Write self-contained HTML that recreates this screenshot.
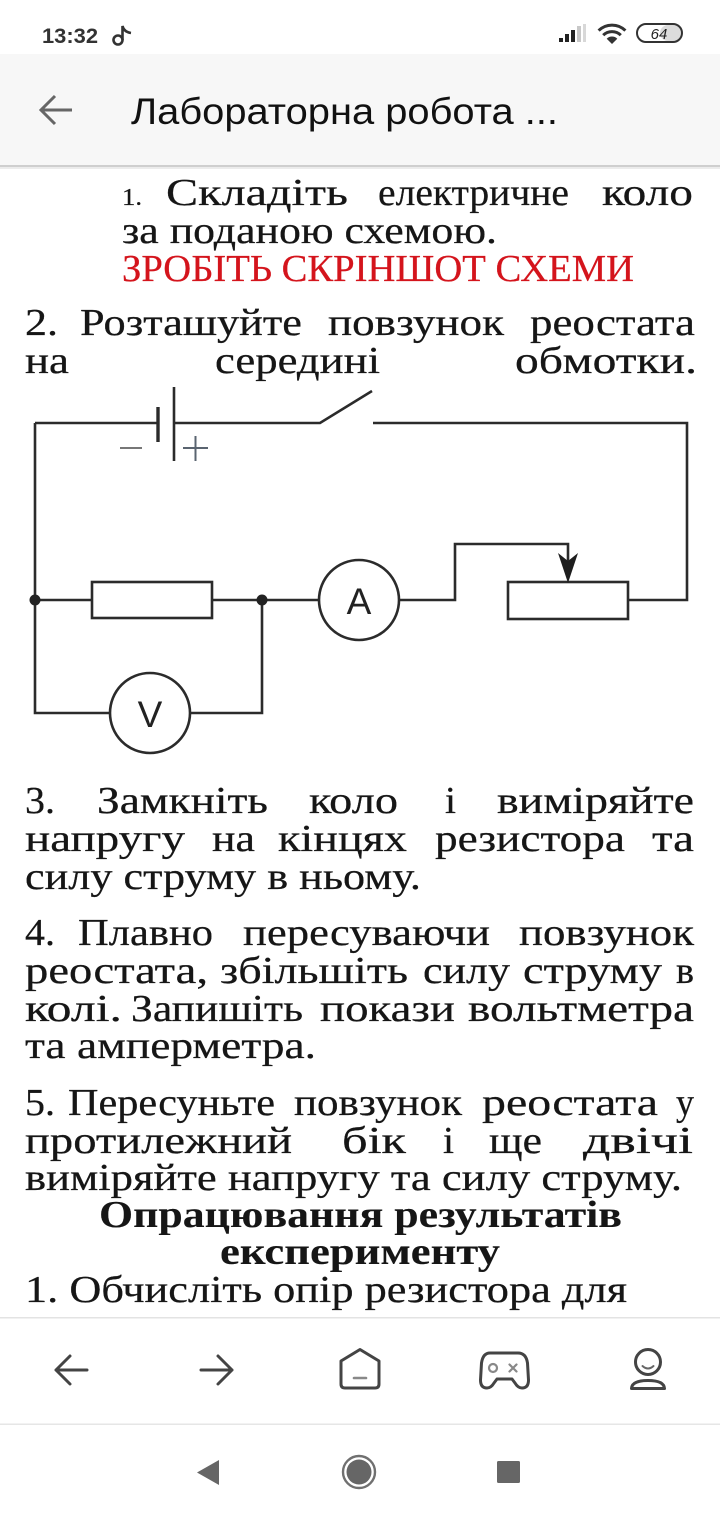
<!DOCTYPE html>
<html><head><meta charset="utf-8"><style>
html,body{margin:0;padding:0;background:#fff;}
svg{display:block;}
.t{font-family:"Liberation Serif",serif;font-size:38px;fill:#161616;stroke:#161616;stroke-width:0.25px;}
.b{font-weight:bold;stroke-width:0.1px;}
</style></head><body>
<svg width="720" height="1520" viewBox="0 0 720 1520" xmlns="http://www.w3.org/2000/svg">
<rect x="0" y="0" width="720" height="1520" fill="#fff"/>
<!-- status bar -->
<text x="42" y="43" font-family="Liberation Sans, sans-serif" font-size="21" font-weight="bold" fill="#333" textLength="56" lengthAdjust="spacingAndGlyphs">13:32</text>
<circle cx="118" cy="40" r="4.5" fill="none" stroke="#333" stroke-width="2.6"/>
<path d="M122.5,40 V26 Q124,32 131,33" fill="none" stroke="#333" stroke-width="2.6"/>
<rect x="559" y="38" width="4" height="4" fill="#222"/>
<rect x="565" y="34" width="4" height="8" fill="#222"/>
<rect x="571" y="30" width="4" height="12" fill="#222"/>
<rect x="577" y="26" width="4" height="16" fill="#c8c8c8"/>
<rect x="583" y="24" width="3" height="18" fill="#d8d8d8"/>
<path d="M598.6,30.6 A19,19 0 0 1 625.4,30.6" fill="none" stroke="#333" stroke-width="3"/>
<path d="M603.2,35.2 A12.5,12.5 0 0 1 620.8,35.2" fill="none" stroke="#333" stroke-width="3"/>
<path d="M612,44 L606.7,38.7 A7.5,7.5 0 0 1 617.3,38.7 Z" fill="#333"/>
<rect x="660" y="25" width="21" height="16" rx="8" fill="#dcdcdc"/>
<rect x="637" y="24" width="45" height="18" rx="9" fill="none" stroke="#333" stroke-width="2"/>
<text x="659" y="39" text-anchor="middle" font-family="Liberation Sans, sans-serif" font-size="15" font-style="italic" fill="#222">64</text>
<!-- app bar -->
<rect x="0" y="54" width="720" height="112" fill="#f7f7f7"/>
<rect x="0" y="165" width="720" height="2" fill="#cfcfcf"/>
<rect x="0" y="167" width="720" height="2" fill="#ececec"/>
<path d="M41,110 H72 M55,96 L41,110 L55,124" fill="none" stroke="#666" stroke-width="3"/>
<text x="131" y="124" font-family="Liberation Sans, sans-serif" font-size="37" fill="#111" textLength="427" lengthAdjust="spacingAndGlyphs">Лабораторна робота ...</text>

<!-- body text -->
<g class="t">
<text x="122" y="205" font-size="24" textLength="20" lengthAdjust="spacingAndGlyphs">1.</text>
<text x="166" y="205" textLength="182" lengthAdjust="spacingAndGlyphs">Складіть</text>
<text x="378" y="205" textLength="191" lengthAdjust="spacingAndGlyphs">електричне</text>
<text x="602" y="205" textLength="91" lengthAdjust="spacingAndGlyphs">коло</text>
<text x="122" y="243" textLength="375" lengthAdjust="spacingAndGlyphs">за поданою схемою.</text>
<text x="122" y="281" textLength="512" lengthAdjust="spacingAndGlyphs" style="fill:#d4141c;stroke:#d4141c">ЗРОБІТЬ СКРІНШОТ СХЕМИ</text>

<text x="25" y="335" textLength="33" lengthAdjust="spacingAndGlyphs">2.</text>
<text x="80" y="335" textLength="222" lengthAdjust="spacingAndGlyphs">Розташуйте</text>
<text x="328" y="335" textLength="176" lengthAdjust="spacingAndGlyphs">повзунок</text>
<text x="530" y="335" textLength="165" lengthAdjust="spacingAndGlyphs">реостата</text>
<text x="25" y="373" textLength="44" lengthAdjust="spacingAndGlyphs">на</text>
<text x="215" y="373" textLength="165" lengthAdjust="spacingAndGlyphs">середині</text>
<text x="515" y="373" textLength="182" lengthAdjust="spacingAndGlyphs">обмотки.</text>

<text x="25" y="813" textLength="30" lengthAdjust="spacingAndGlyphs">3.</text>
<text x="97" y="813" textLength="171" lengthAdjust="spacingAndGlyphs">Замкніть</text>
<text x="309" y="813" textLength="89" lengthAdjust="spacingAndGlyphs">коло</text>
<text x="445" y="813" textLength="11" lengthAdjust="spacingAndGlyphs">і</text>
<text x="497" y="813" textLength="197" lengthAdjust="spacingAndGlyphs">виміряйте</text>
<text x="25" y="851" textLength="160" lengthAdjust="spacingAndGlyphs">напругу</text>
<text x="212" y="851" textLength="43" lengthAdjust="spacingAndGlyphs">на</text>
<text x="278" y="851" textLength="129" lengthAdjust="spacingAndGlyphs">кінцях</text>
<text x="435" y="851" textLength="190" lengthAdjust="spacingAndGlyphs">резистора</text>
<text x="652" y="851" textLength="42" lengthAdjust="spacingAndGlyphs">та</text>
<text x="25" y="889" textLength="396" lengthAdjust="spacingAndGlyphs">силу струму в ньому.</text>

<text x="25" y="945" textLength="30" lengthAdjust="spacingAndGlyphs">4.</text>
<text x="78" y="945" textLength="135" lengthAdjust="spacingAndGlyphs">Плавно</text>
<text x="243" y="945" textLength="247" lengthAdjust="spacingAndGlyphs">пересуваючи</text>
<text x="519" y="945" textLength="175" lengthAdjust="spacingAndGlyphs">повзунок</text>
<text x="25" y="983" textLength="183" lengthAdjust="spacingAndGlyphs">реостата,</text>
<text x="220" y="983" textLength="188" lengthAdjust="spacingAndGlyphs">збільшіть</text>
<text x="423" y="983" textLength="87" lengthAdjust="spacingAndGlyphs">силу</text>
<text x="523" y="983" textLength="139" lengthAdjust="spacingAndGlyphs">струму</text>
<text x="676" y="983" textLength="18" lengthAdjust="spacingAndGlyphs">в</text>
<text x="25" y="1021" textLength="97" lengthAdjust="spacingAndGlyphs">колі.</text>
<text x="131" y="1021" textLength="172" lengthAdjust="spacingAndGlyphs">Запишіть</text>
<text x="320" y="1021" textLength="135" lengthAdjust="spacingAndGlyphs">покази</text>
<text x="468" y="1021" textLength="226" lengthAdjust="spacingAndGlyphs">вольтметра</text>
<text x="25" y="1058" textLength="291" lengthAdjust="spacingAndGlyphs">та амперметра.</text>

<text x="25" y="1115" textLength="30" lengthAdjust="spacingAndGlyphs">5.</text>
<text x="68" y="1115" textLength="207" lengthAdjust="spacingAndGlyphs">Пересуньте</text>
<text x="294" y="1115" textLength="168" lengthAdjust="spacingAndGlyphs">повзунок</text>
<text x="482" y="1115" textLength="176" lengthAdjust="spacingAndGlyphs">реостата</text>
<text x="676" y="1115" textLength="18" lengthAdjust="spacingAndGlyphs">у</text>
<text x="25" y="1153" textLength="267" lengthAdjust="spacingAndGlyphs">протилежний</text>
<text x="342" y="1153" textLength="64" lengthAdjust="spacingAndGlyphs">бік</text>
<text x="443" y="1153" textLength="11" lengthAdjust="spacingAndGlyphs">і</text>
<text x="489" y="1153" textLength="53" lengthAdjust="spacingAndGlyphs">ще</text>
<text x="583" y="1153" textLength="110" lengthAdjust="spacingAndGlyphs">двічі</text>
<text x="25" y="1190" textLength="657" lengthAdjust="spacingAndGlyphs">виміряйте напругу та силу струму.</text>
<text class="b" x="99" y="1227" textLength="523" lengthAdjust="spacingAndGlyphs">Опрацювання результатів</text>
<text class="b" x="220" y="1264" textLength="280" lengthAdjust="spacingAndGlyphs">експерименту</text>
<text x="25" y="1302" textLength="602" lengthAdjust="spacingAndGlyphs">1. Обчисліть опір резистора для</text>
</g>

<!-- circuit -->
<g fill="none" stroke="#2b2b2b" stroke-width="2.6" stroke-linejoin="miter">
<path d="M35,423 H158"/>
<path d="M158,407 V442" stroke-width="3.4"/>
<path d="M174,387 V461"/>
<path d="M174,423 H320 L372,391"/>
<path d="M373,423 H687 V600 H628"/>
<rect x="508" y="582" width="120" height="37"/>
<path d="M399,600 H455 V544 H568 V565"/>
<path d="M35,423 V713 H110"/>
<circle cx="150" cy="713" r="40"/>
<path d="M190,713 H262 V600"/>
<path d="M35,600 H92"/>
<rect x="92" y="582" width="120" height="36"/>
<path d="M212,600 H319"/>
<circle cx="359" cy="600" r="40"/>
</g>
<polygon points="558,553 568,583 578,553 568,561" fill="#1e1e1e"/>
<circle cx="35" cy="600" r="5.5" fill="#222"/>
<circle cx="262" cy="600" r="5.5" fill="#222"/>
<text x="359" y="614" text-anchor="middle" font-family="Liberation Sans, sans-serif" font-size="37" fill="#222">A</text>
<text x="150" y="727" text-anchor="middle" font-family="Liberation Sans, sans-serif" font-size="37" fill="#222">V</text>
<path d="M120,448 H142" stroke="#777" stroke-width="2"/>
<path d="M183,448 H208 M195.5,436 V461" stroke="#5a6470" stroke-width="2"/>

<!-- bottom toolbar -->
<rect x="0" y="1317" width="720" height="203" fill="#fff"/>
<rect x="0" y="1317" width="720" height="1.5" fill="#e3e3e3"/>
<g fill="none" stroke="#444" stroke-width="3" stroke-linecap="round" stroke-linejoin="round">
<path d="M56,1370 H87 M70,1356 L56,1370 L70,1384"/>
<path d="M232,1370 H201 M218,1356 L232,1370 L218,1384"/>
<path d="M341,1361 L360,1349.5 L379,1361 V1384 Q379,1388 375,1388 H345 Q341,1388 341,1384 Z"/>
<path d="M490,1353 H518 Q526,1353 527.5,1363 L528.5,1380 Q528.5,1388 522,1388 Q518,1388 515,1383 L512,1379 H497 L494,1383 Q491,1388 487,1388 Q480.5,1388 480.5,1380 L481.5,1363 Q483,1353 490,1353 Z"/>
<circle cx="648" cy="1362" r="12.5"/>
<path d="M631.5,1388.5 Q632,1380.5 648,1380.5 Q664,1380.5 664.5,1388.5 Z"/>
</g>
<path d="M354,1378 H366" stroke="#888" stroke-width="2.6" stroke-linecap="round"/>
<circle cx="493" cy="1368" r="4" fill="none" stroke="#888" stroke-width="2.2"/>
<path d="M509.5,1364.5 L516.5,1371.5 M516.5,1364.5 L509.5,1371.5" stroke="#888" stroke-width="2.2" stroke-linecap="round"/>
<path d="M642.5,1366 Q648,1371 653.5,1366" fill="none" stroke="#666" stroke-width="2" stroke-linecap="round"/>

<!-- nav bar -->
<rect x="0" y="1423.5" width="720" height="1.5" fill="#e6e6e6"/>
<polygon points="219,1460 219,1485 197,1472.5" fill="#666"/>
<circle cx="359" cy="1472" r="16" fill="none" stroke="#707070" stroke-width="2.4"/>
<circle cx="359" cy="1472" r="12.5" fill="#666"/>
<rect x="497" y="1461" width="23" height="22" rx="1.5" fill="#666"/>
</svg>
</body></html>
